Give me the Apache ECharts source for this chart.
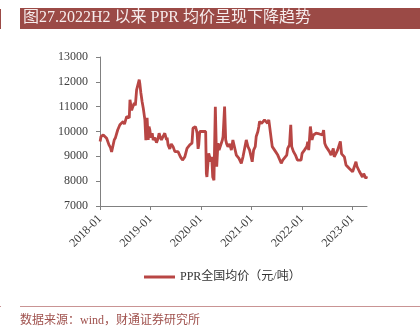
<!DOCTYPE html>
<html><head><meta charset="utf-8">
<script src="https://cdn.jsdelivr.net/npm/echarts@6/dist/echarts.min.js"></script>
<style>html,body{margin:0;padding:0;background:#fff}#c{width:420px;height:331px}</style>
</head><body><div id="c"></div>
<script>
const titleText = '图27.2022H2 以来 PPR 均价呈现下降趋势';
const sourceText = '数据来源：wind，财通证券研究所';
const seriesName = 'PPR全国均价（元/吨）';
const yTicks = [7000, 8000, 9000, 10000, 11000, 12000, 13000];
const dates = ['2018-01-02','2018-01-08','2018-01-15','2018-01-25','2018-02-06','2018-02-18','2018-02-24','2018-03-07','2018-03-18','2018-03-26','2018-04-01','2018-04-14','2018-04-23','2018-05-09','2018-05-18','2018-05-25','2018-06-07','2018-06-18','2018-06-27','2018-07-13','2018-07-24','2018-08-01','2018-08-06','2018-08-18','2018-08-27','2018-09-06','2018-09-14','2018-09-23','2018-10-05','2018-10-12','2018-10-17','2018-10-24','2018-11-02','2018-11-10','2018-11-22','2018-11-29','2018-12-08','2018-12-16','2018-12-22','2018-12-28',
'2019-01-04','2019-01-14','2019-01-21','2019-02-02','2019-02-14','2019-02-24','2019-03-05','2019-03-14','2019-03-22','2019-04-03','2019-04-15','2019-04-28','2019-05-02','2019-05-09','2019-05-21','2019-06-01','2019-06-14','2019-06-27','2019-07-09','2019-07-20','2019-07-28','2019-08-09','2019-08-21','2019-08-30','2019-09-07','2019-09-14','2019-09-23','2019-09-30','2019-10-13','2019-10-24','2019-10-29','2019-11-05','2019-11-14','2019-11-23','2019-11-30','2019-12-05','2019-12-12','2019-12-17','2019-12-24',
'2020-01-15','2020-02-05','2020-02-10','2020-02-14','2020-02-27','2020-03-05','2020-03-12','2020-03-20','2020-03-27','2020-04-05','2020-04-15','2020-04-25','2020-05-04','2020-05-12','2020-05-24','2020-06-05','2020-06-10','2020-06-21','2020-06-29','2020-07-06','2020-07-15','2020-07-28','2020-08-09','2020-08-20','2020-08-28','2020-09-14','2020-09-23','2020-10-03','2020-10-20','2020-11-02','2020-11-13','2020-11-25','2020-12-07','2020-12-19','2020-12-26',
'2021-01-07','2021-01-17','2021-01-29','2021-02-05','2021-02-17','2021-02-24','2021-03-01','2021-03-16','2021-03-25','2021-04-06','2021-04-19','2021-04-28','2021-05-07','2021-05-20','2021-05-27','2021-06-01','2021-06-18','2021-06-28','2021-07-11','2021-07-24','2021-08-05','2021-08-16','2021-08-29','2021-09-14','2021-09-21','2021-10-04','2021-10-13','2021-10-20','2021-11-01','2021-11-16','2021-11-30','2021-12-10','2021-12-27',
'2022-01-03','2022-01-13','2022-01-20','2022-01-27','2022-02-06','2022-02-13','2022-02-20','2022-03-04','2022-03-16','2022-03-26','2022-04-14','2022-04-26','2022-05-08','2022-05-21','2022-05-30','2022-06-08','2022-06-16','2022-06-26','2022-07-05','2022-07-20','2022-08-01','2022-08-17','2022-08-24','2022-09-04','2022-09-17','2022-09-30','2022-10-07','2022-10-16','2022-11-05','2022-11-17','2022-11-28','2022-12-11','2022-12-22',
'2023-01-04','2023-01-16','2023-01-28','2023-02-04','2023-02-21','2023-03-03','2023-03-16','2023-03-25','2023-04-05','2023-04-10','2023-04-16'];
const prices = [9600,9800,9750,9860,9800,9730,9800,9460,9350,9180,9150,9660,9750,10060,10000,10270,10200,10400,10300,10600,10670,10550,11280,10850,11000,11150,11050,11680,11650,12090,11900,11550,11200,10950,10470,9650,10550,9660,10200,10060,
9750,9930,9660,9750,9550,9700,9930,9750,9660,9800,9930,9660,9750,9460,9300,9500,9390,9190,9250,9190,9120,8950,8850,8780,8980,9050,9320,9390,9460,9400,9530,10130,10050,10200,10060,9930,9300,9460,10000,
10000,10000,8310,8170,9120,8980,8780,8980,8170,8040,11000,8580,9530,9250,9250,9660,9800,11000,9660,9500,9390,9500,9250,9660,9590,9050,9000,8920,8720,9000,8980,9660,9390,9250,9190,
8780,9250,9390,9800,10000,10200,10400,10330,10400,10470,10400,10330,10470,10470,9600,9390,9250,9250,9050,9000,8720,8850,8780,9050,9320,9460,10270,9390,9200,9050,8850,8780,8850,
9120,9190,9250,9320,9390,9590,9250,10200,9660,9860,9930,9860,9900,9930,9860,10060,9530,9390,9400,9190,9050,9320,8980,9100,9250,9300,9600,9100,8980,8650,8580,8510,8450,
8380,8450,8780,8600,8400,8450,8170,8300,8310,8110,8200];

const chart = echarts.init(document.getElementById('c'), null, {renderer: 'canvas'});
const serif = "'Liberation Serif','Noto Sans CJK SC',serif";
chart.setOption({
  animation: false,
  backgroundColor: '#fff',
  grid: {left: 100, right: 53, top: 57, bottom: 125, containLabel: false},
  xAxis: {
    type: 'time',
    min: '2018-01-01',
    max: '2023-04-18',
    minInterval: 365 * 86400000,
    maxInterval: 366 * 86400000,
    splitLine: {show: false},
    axisLine: {lineStyle: {color: '#808080', width: 1}},
    axisTick: {show: true, length: 4, lineStyle: {color: '#808080'}},
    axisLabel: {
      rotate: 45, fontSize: 12, color: '#404040', fontFamily: serif, margin: 11,
      showMinLabel: true, showMaxLabel: false, hideOverlap: false,
      formatter: function (v) { return echarts.time.format(v, '{yyyy}-{MM}', false); }
    },
    minorTick: {show: false}
  },
  yAxis: {
    type: 'value', min: yTicks[0], max: yTicks[yTicks.length - 1], interval: 1000,
    splitLine: {show: false},
    axisLine: {show: true, lineStyle: {color: '#808080'}},
    axisTick: {show: true, length: 4, inside: false, lineStyle: {color: '#808080'}},
    axisLabel: {fontSize: 12, color: '#404040', fontFamily: serif, margin: 12,
      formatter: function (v) { return String(v); }}
  },
  legend: {
    show: true, left: 139, top: 266, icon: 'rect', itemWidth: 31, itemHeight: 3,
    textStyle: {fontSize: 12, color: '#333', fontFamily: serif}, data: [seriesName]
  },
  series: [{
    name: seriesName, type: 'line', showSymbol: false, symbol: 'none',
    lineStyle: {color: '#b84644', width: 2.8}, itemStyle: {color: '#b84644'},
    data: dates.map((d, i) => [d, prices[i]])
  }],
  graphic: [
    {type: 'rect', shape: {x: 20, y: 8, width: 400, height: 21}, style: {fill: '#9b4a46'}},
    {type: 'rect', shape: {x: 0, y: 9, width: 1, height: 20}, style: {fill: '#9b4a46'}},
    {type: 'text', left: 23, top: 10, style: {text: titleText, fill: '#f6ecec', font: "16px 'Liberation Serif','Noto Sans CJK SC',serif"}},
    {type: 'rect', shape: {x: 20, y: 306, width: 400, height: 1}, style: {fill: '#c99494'}},
    {type: 'rect', shape: {x: 0, y: 306, width: 1, height: 1}, style: {fill: '#c99494'}},
    {type: 'text', left: 20, top: 315, style: {text: sourceText, fill: '#a0524e', font: "12px 'Liberation Serif','Noto Sans CJK SC',serif"}}
  ]
});
</script></body></html>
